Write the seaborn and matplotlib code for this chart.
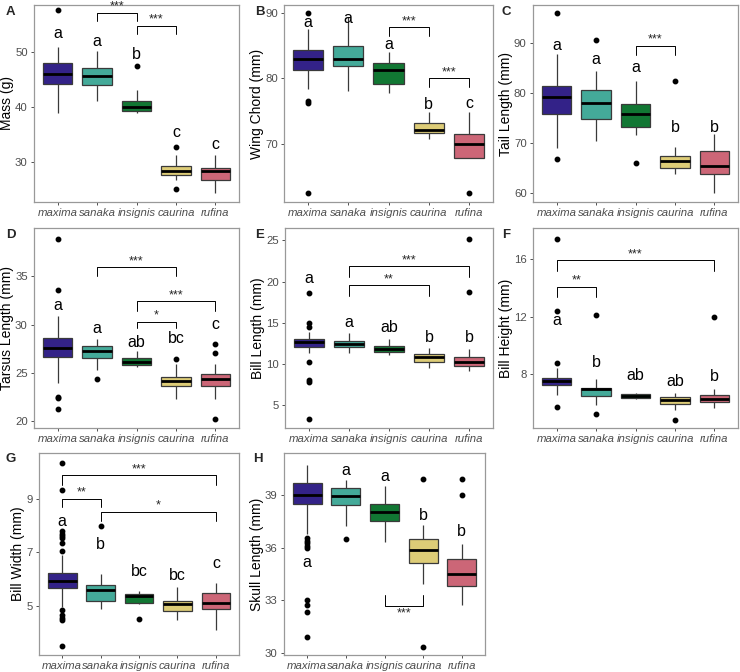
import matplotlib
matplotlib.use('Agg')
import matplotlib.pyplot as plt
import pandas as pd
import seaborn as sns

species = ['maxima', 'sanaka', 'insignis', 'caurina', 'rufina']
colors = ['#332288', '#44AA99', '#117733', '#DDCC77', '#CC6677']

# box stats per species: [whisker low, q1, median, q3, whisker high]
mass_box = [[39.0, 44.2, 46.1, 48.1, 51.0], [41.1, 44.0, 45.6, 47.1, 50.2],
            [39.0, 39.2, 40.0, 41.1, 43.1], [26.7, 27.6, 28.35, 29.15, 31.3],
            [24.3, 26.6, 28.25, 28.9, 31.3]]
mass_out = [[57.7], [], [47.6], [25.05, 32.7], []]
mass_letters = ['a', 'a', 'b', 'c', 'c']
mass_letter_y = [53.5, 52.0, 49.6, 35.3, 33.2]
mass_sig = [(1, 2, 57.3, 55.8, '***'), (2, 3, 54.9, 53.3, '***')]

wing_box = [[78.4, 81.3, 83.0, 84.35, 87.5], [78.0, 81.8, 83.0, 84.95, 89.3],
            [77.75, 79.1, 81.3, 82.35, 84.0], [70.8, 71.6, 72.05, 73.25, 74.9],
            [62.5, 67.9, 70.0, 71.5, 74.9]]
wing_out = [[62.55, 76.15, 76.55, 89.9], [], [], [], []]
wing_letters = ['a', 'a', 'a', 'b', 'c']
wing_letter_y = [88.55, 89.05, 85.15, 76.0, 76.1]
wing_sig = [(2, 3, 87.8, 86.4, '***'), (3, 4, 80.0, 78.65, '***')]

tail_box = [[69.1, 75.9, 79.2, 81.5, 87.8], [70.4, 74.8, 78.1, 80.7, 84.4],
            [71.7, 73.3, 75.8, 77.8, 82.4], [63.8, 65.05, 66.4, 67.4, 69.3],
            [60.1, 63.9, 65.5, 68.5, 71.8]]
tail_out = [[66.8, 96.0], [90.7], [66.1], [82.5], []]
tail_letters = ['a', 'a', 'a', 'b', 'b']
tail_letter_y = [89.5, 86.7, 85.1, 73.1, 73.1]
tail_sig = [(2, 3, 89.5, 87.7, '***')]

tarsus_box = [[24.0, 26.6, 27.6, 28.6, 30.9], [25.35, 26.5, 27.25, 27.8, 28.5],
              [25.65, 25.8, 26.15, 26.5, 27.25], [22.3, 23.6, 24.15, 24.6, 25.95],
              [22.3, 23.6, 24.35, 24.85, 25.9]]
tarsus_out = [[21.3, 22.4, 22.5, 33.6, 38.9], [24.35], [], [26.45],
              [20.25, 27.05, 27.95]]
tarsus_letters = ['a', 'a', 'ab', 'bc', 'c']
tarsus_letter_y = [32.0, 29.6, 28.2, 28.55, 30.0]
tarsus_sig = [(1, 3, 35.95, 35.0, '***'), (2, 4, 32.4, 31.4, '***'),
              (2, 3, 30.3, 29.6, '*')]

bill_len_box = [[11.3, 12.1, 12.7, 13.0, 13.95], [11.3, 12.1, 12.45, 12.8, 13.8],
                [11.05, 11.45, 11.85, 12.25, 13.0], [9.55, 10.25, 10.8, 11.25, 11.9],
                [9.2, 9.8, 10.25, 10.8, 11.85]]
bill_len_out = [[3.3, 7.85, 8.1, 10.3, 14.45, 15.0, 18.6], [], [], [], [18.75, 25.2]]
bill_len_letters = ['a', 'a', 'ab', 'b', 'b']
bill_len_letter_y = [20.35, 15.0, 14.4, 13.25, 13.2]
bill_len_sig = [(1, 4, 21.85, 20.55, '***'), (1, 3, 19.55, 18.3, '**')]

bill_h_box = [[6.55, 7.22, 7.55, 7.73, 8.45], [5.86, 6.46, 6.95, 7.06, 7.7],
              [6.25, 6.32, 6.5, 6.64, 6.71], [5.5, 5.9, 6.2, 6.44, 6.7],
              [5.65, 6.05, 6.28, 6.53, 7.0]]
bill_h_out = [[5.73, 8.77, 12.4, 17.45], [5.24, 12.1], [], [4.83], [12.0]]
bill_h_letters = ['a', 'b', 'ab', 'ab', 'b']
bill_h_letter_y = [11.75, 8.85, 7.93, 7.47, 7.82]
bill_h_sig = [(0, 4, 15.93, 15.17, '***'), (0, 1, 14.09, 13.4, '**')]

bill_w_box = [[4.96, 5.68, 5.91, 6.21, 6.9], [4.89, 5.18, 5.59, 5.78, 6.19],
              [5.05, 5.1, 5.35, 5.45, 5.56], [4.46, 4.79, 5.08, 5.18, 5.69],
              [4.09, 4.88, 5.1, 5.49, 5.86]]
bill_w_out = [[3.5, 4.45, 4.55, 4.65, 4.82, 7.05, 7.35, 7.55, 7.62, 7.7, 7.8, 9.33, 10.34],
              [8.0], [4.49], [], []]
bill_w_letters = ['a', 'b', 'bc', 'bc', 'c']
bill_w_letter_y = [8.15, 7.31, 6.28, 6.15, 6.59]
bill_w_sig = [(0, 4, 9.89, 9.53, '***'), (0, 1, 9.01, 8.71, '**'),
              (1, 4, 8.53, 8.19, '*')]

skull_box = [[36.75, 38.5, 39.0, 39.7, 40.68], [37.22, 38.41, 38.92, 39.4, 39.87],
             [36.33, 37.49, 38.02, 38.49, 39.49], [33.91, 35.14, 35.84, 36.52, 37.28],
             [32.72, 33.82, 34.52, 35.33, 36.18]]
skull_out = [[30.95, 32.33, 32.74, 33.03, 36.0, 36.1, 36.25, 36.4, 36.55],
             [36.52], [], [30.36, 39.93], [39.02, 39.93]]
skull_letters = ['a', 'a', 'a', 'b', 'b']
skull_letter_y = [35.14, 40.4, 40.02, 37.83, 36.94]
skull_sig = [(2, 3, 32.7, 33.3, '***')]


def make_sample(box, out):
    # rebuild a sample whose quartiles, whisker ends and outliers match the box
    lo, q1, med, q3, hi = box
    low = sorted(v for v in out if v < q1) + [lo]
    high = [hi] + sorted(v for v in out if v > q3)
    n = max(len(low), len(high))
    low = low + [lo] * (n - len(low))
    high = [hi] * (n - len(high)) + high
    return low + [q1] * n + [med] + [q3] * n + high


def to_frame(boxes, outs):
    rows = []
    for sp, box, out in zip(species, boxes, outs):
        for v in make_sample(box, out):
            rows.append({'species': sp, 'value': v})
    return pd.DataFrame(rows)


panels = [
    ('A', 'Mass (g)', mass_box, mass_out, mass_letters, mass_letter_y, mass_sig),
    ('B', 'Wing Chord (mm)', wing_box, wing_out, wing_letters, wing_letter_y, wing_sig),
    ('C', 'Tail Length (mm)', tail_box, tail_out, tail_letters, tail_letter_y, tail_sig),
    ('D', 'Tarsus Length (mm)', tarsus_box, tarsus_out, tarsus_letters, tarsus_letter_y, tarsus_sig),
    ('E', 'Bill Length (mm)', bill_len_box, bill_len_out, bill_len_letters, bill_len_letter_y, bill_len_sig),
    ('F', 'Bill Height (mm)', bill_h_box, bill_h_out, bill_h_letters, bill_h_letter_y, bill_h_sig),
    ('G', 'Bill Width (mm)', bill_w_box, bill_w_out, bill_w_letters, bill_w_letter_y, bill_w_sig),
    ('H', 'Skull Length (mm)', skull_box, skull_out, skull_letters, skull_letter_y, skull_sig),
]

# layout: axes rect in pixels (left, top, right, bottom), y limits, y ticks
W, H = 740, 672
layout = {
    'A': ((34, 5, 239, 202), (22.6, 58.7), [30, 40, 50]),
    'B': ((284, 5, 493, 202), (61.15, 91.15), [70, 80, 90]),
    'C': ((533, 5, 738, 202), (58.2, 97.7), [60, 70, 80, 90]),
    'D': ((34, 228, 239, 428), (19.3, 40.0), [20, 25, 30, 35]),
    'E': ((285, 228, 493, 428), (2.25, 26.5), [5, 10, 15, 20, 25]),
    'F': ((533, 228, 738, 428), (4.25, 18.19), [8, 12, 16]),
    'G': ((39, 453, 239, 655), (3.15, 10.73), [5, 7, 9]),
    'H': ((284, 453, 485, 655), (29.9, 41.38), [30, 33, 36, 39]),
}
label_pos = {'A': (6, 12), 'B': (255, 12), 'C': (502, 12),
             'D': (6, 235), 'E': (255, 235), 'F': (502, 235),
             'G': (6, 459), 'H': (253, 459)}

sns.set_theme(style='white')
plt.rcParams['font.family'] = ['Liberation Sans', 'DejaVu Sans']

fig = plt.figure(figsize=(W / 100, H / 100), dpi=100)

for key, ylabel, boxes, outs, letters, letter_y, sig in panels:
    (l, t, r, b), ylim, yticks = layout[key]
    ax = fig.add_axes([l / W, 1 - b / H, (r - l) / W, (b - t) / H])
    df = to_frame(boxes, outs)
    sns.boxplot(data=df, x='species', y='value', hue='species', order=species,
                hue_order=species, palette=colors, saturation=1, width=0.75,
                linecolor='#3a3a3a', linewidth=0.9, showcaps=False,
                medianprops=dict(color='black', linewidth=2.0),
                flierprops=dict(marker='o', markerfacecolor='black',
                                markeredgecolor='black', markersize=3.2),
                legend=False, ax=ax)
    for i, (txt, y) in enumerate(zip(letters, letter_y)):
        ax.text(i, y, txt, ha='center', va='center', fontsize=11.5, color='black')
    for x1, x2, y, tip, stars in sig:
        ax.plot([x1, x1, x2, x2], [tip, y, y, tip], color='black', lw=0.7)
        if tip > y:
            ax.text((x1 + x2) / 2, y - (ylim[1] - ylim[0]) * 0.01, stars,
                    ha='center', va='top', fontsize=9)
        else:
            ax.text((x1 + x2) / 2, y, stars, ha='center', va='bottom', fontsize=9)
    ax.set_xlim(-0.6, 4.6)
    ax.set_ylim(*ylim)
    ax.set_yticks(yticks)
    ax.set_xlabel('')
    ax.set_ylabel(ylabel, fontsize=10, color='black', labelpad=1)
    ax.tick_params(axis='both', length=2.5, width=0.6, color='#333333',
                   labelcolor='#4D4D4D', labelsize=8.2, pad=2, left=True, bottom=True)
    for lab in ax.get_xticklabels():
        lab.set_fontstyle('italic')
    for s in ax.spines.values():
        s.set_color('#999999')
        s.set_linewidth(0.9)
    lx, ly = label_pos[key]
    fig.text(lx / W, 1 - ly / H, key, fontsize=9.5, fontweight='bold',
             ha='left', va='center')

fig.savefig('out.png', dpi=100)
